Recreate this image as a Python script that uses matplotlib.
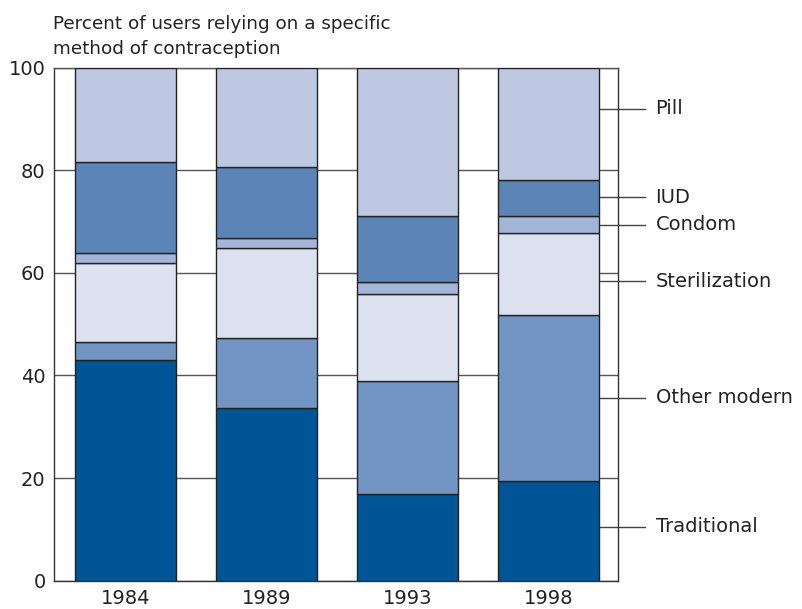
import matplotlib
matplotlib.use("Agg")
import matplotlib.pyplot as plt
import numpy as np

# data (percent of users)
years = ["1984", "1989", "1993", "1998"]
methods = ["Traditional", "Other modern", "Sterilization", "Condom", "IUD", "Pill"]
traditional = [43.0, 33.6, 16.8, 19.4]
other_modern = [3.6, 13.7, 22.1, 32.4]
sterilization = [15.4, 17.6, 16.9, 16.0]
condom = [1.8, 1.9, 2.5, 3.2]
iud = [17.8, 13.9, 12.7, 7.1]
pill = [18.4, 19.3, 29.0, 21.9]

colors = ["#005596", "#7395c3", "#dce1ef", "#a3b5d9", "#5b84b7", "#bfc8e2"]
# label heights for the right-hand key (layout only)
label_y = [10.5, 35.7, 58.4, 69.4, 74.7, 92.0]

plt.rcParams["font.family"] = ["DejaVu Sans"]

fig = plt.figure(figsize=(8.02, 6.09), dpi=100)
ax = fig.add_axes([0.0673, 0.0465, 0.7033, 0.8425])

x = np.arange(len(years))
width = 0.716
bottom = np.zeros(len(years))
series = [traditional, other_modern, sterilization, condom, iud, pill]
for vals, col in zip(series, colors):
    ax.bar(x, vals, width, bottom=bottom, color=col, edgecolor="#222222",
           linewidth=1.0, zorder=3)
    bottom += np.array(vals)

ax.set_xlim(-0.507, 3.494)
ax.set_ylim(0, 100)
ax.set_yticks([0, 20, 40, 60, 80, 100])
ax.set_xticks(x)
ax.set_xticklabels(years)
ax.tick_params(length=0, labelsize=14, colors="#222222")
ax.tick_params(axis="x", pad=6)
ax.tick_params(axis="y", pad=6)
ax.yaxis.grid(True, color="#555555", linewidth=1.0, zorder=0)
ax.set_axisbelow(True)
for s in ["left", "right", "bottom", "top"]:
    ax.spines[s].set_color("#333333")
    ax.spines[s].set_linewidth(1.0)
ax.spines["top"].set_color("#555555")

# leader lines and labels for the last bar
x_end = x[-1] + width / 2
for name, yy in zip(methods, label_y):
    ax.plot([x_end, 3.685], [yy, yy], color="#444444", linewidth=1.0,
            clip_on=False, zorder=2)
    ax.text(3.76, yy, name, fontsize=14, va="center", ha="left",
            color="#222222", clip_on=False)

fig.text(0.066, 0.905, "Percent of users relying on a specific\nmethod of contraception",
         fontsize=13.2, ha="left", va="bottom", color="#222222", linespacing=1.5)

fig.savefig("out.png", dpi=100)
